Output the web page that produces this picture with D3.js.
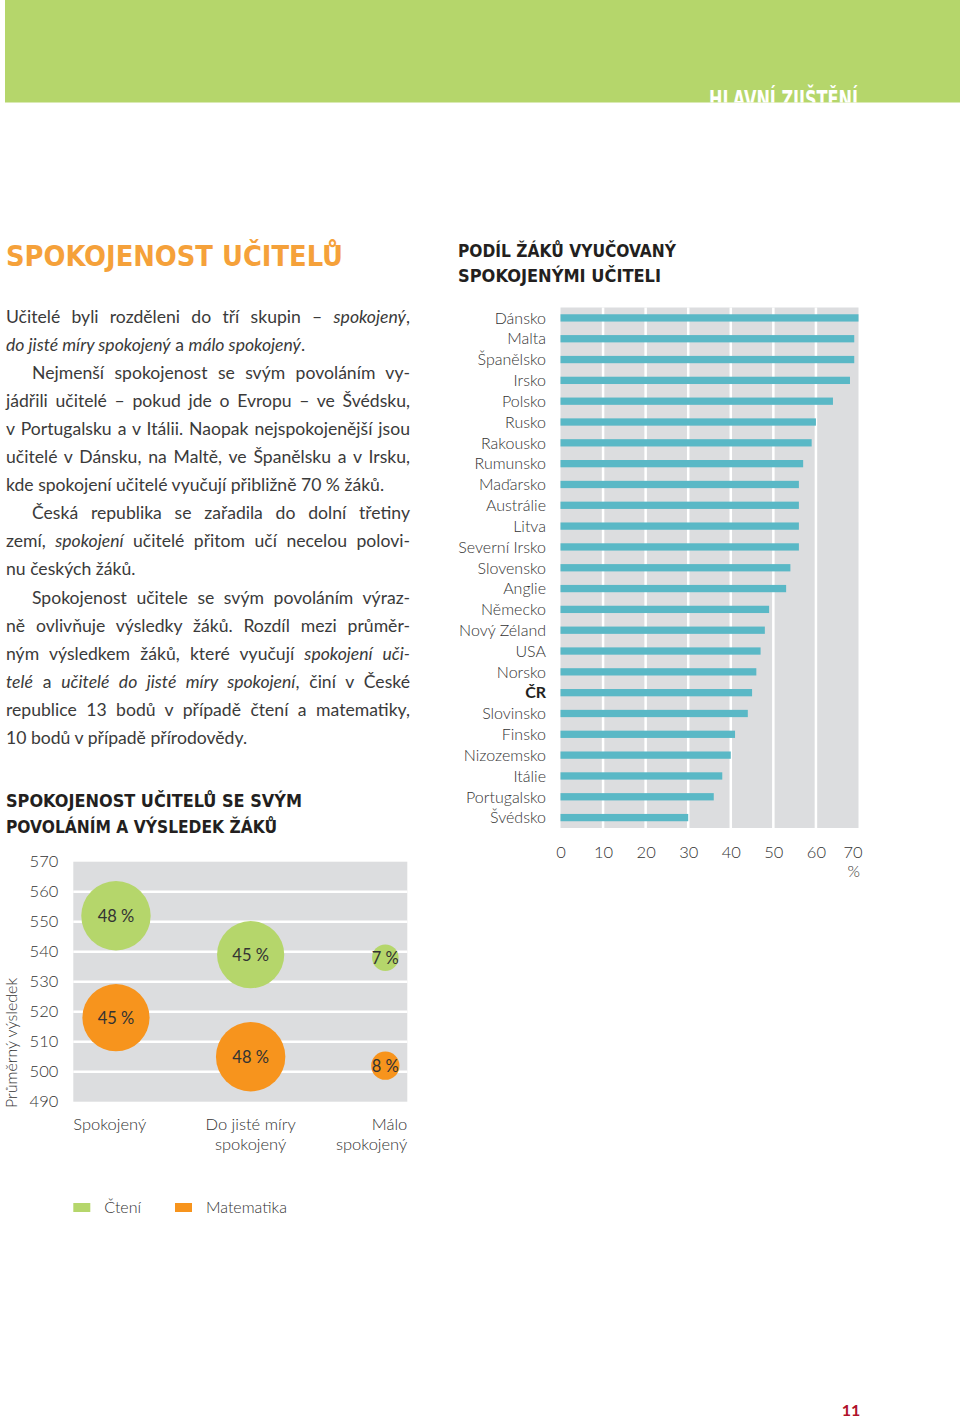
<!DOCTYPE html>
<html>
<head>
<meta charset="utf-8">
<script src="https://cdn.jsdelivr.net/npm/d3@7"></script>
<style>
  body { margin: 0; background: #fff; }
  svg { display: block; }
  text { font-family: Lato, 'Open Sans', sans-serif; }
  .cond { font-family: 'Liberation Sans Narrow', 'DejaVu Sans Condensed', sans-serif; font-weight: bold; }
</style>
</head>
<body>
<svg id="page" width="960" height="1423"></svg>
<script>
// Data
const countries = ['Dánsko', 'Malta', 'Španělsko', 'Irsko', 'Polsko', 'Rusko', 'Rakousko', 'Rumunsko',
  'Maďarsko', 'Austrálie', 'Litva', 'Severní Irsko', 'Slovensko', 'Anglie', 'Německo', 'Nový Zéland',
  'USA', 'Norsko', 'ČR', 'Slovinsko', 'Finsko', 'Nizozemsko', 'Itálie', 'Portugalsko', 'Švédsko'];
const shares = [70, 69, 69, 68, 64, 60, 59, 57, 56, 56, 56, 56, 54, 53, 49, 48, 47, 46, 45, 44, 41, 40, 38, 36, 30];
const shareTicks = [0, 10, 20, 30, 40, 50, 60, 70];

const groups = ['Spokojený', 'Do jisté míry spokojený', 'Málo spokojený'];
const groupLabels = [['Spokojený'], ['Do jisté míry', 'spokojený'], ['Málo', 'spokojený']];
const readingScores = [552, 539, 538];
const mathScores = [518, 505, 502];
const readingShares = [48, 45, 7];
const mathShares = [45, 48, 8];
const scoreTicks = [490, 500, 510, 520, 530, 540, 550, 560, 570];

// Text, * marks italics
const paragraphs = [
  ['Učitelé byli rozděleni do tří skupin – *spokojený*,',
    '*do jisté míry spokojený* a *málo spokojený*.'],
  ['Nejmenší spokojenost se svým povoláním vy-',
    'jádřili učitelé – pokud jde o Evropu – ve Švédsku,',
    'v Portugalsku a v Itálii. Naopak nejspokojenější jsou',
    'učitelé v Dánsku, na Maltě, ve Španělsku a v Irsku,',
    'kde spokojení učitelé vyučují přibližně 70 % žáků.'],
  ['Česká republika se zařadila do dolní třetiny',
    'zemí, *spokojení* učitelé přitom učí necelou polovi-',
    'nu českých žáků.'],
  ['Spokojenost učitele se svým povoláním výraz-',
    'ně ovlivňuje výsledky žáků. Rozdíl mezi průměr-',
    'ným výsledkem žáků, které vyučují *spokojení uči-*',
    '*telé* a *učitelé do jisté míry spokojení*, činí v České',
    'republice 13 bodů v případě čtení a matematiky,',
    '10 bodů v případě přírodovědy.'],
];

const green = '#b5d66b';
const orange = '#f7941d';
const teal = '#5ab8c6';
const plotGrey = '#dcdddf';
const textColor = '#333333';
const headColor = '#231f20';

const svg = d3.select('#page');
svg.append('rect').attr('width', 960).attr('height', 1423).attr('fill', '#fff');

// Header band
svg.append('defs').append('clipPath').attr('id', 'head-clip')
  .append('rect').attr('x', 5).attr('y', 0).attr('width', 955).attr('height', 102.5);
svg.append('rect').attr('x', 5).attr('y', 0).attr('width', 955).attr('height', 102.5).attr('fill', green);
svg.append('text').attr('class', 'cond')
  .attr('clip-path', 'url(#head-clip)')
  .attr('x', 709).attr('y', 108)
  .attr('font-size', 25).attr('fill', '#fff')
  .attr('textLength', 149).attr('lengthAdjust', 'spacingAndGlyphs')
  .text('HLAVNÍ ZJIŠTĚNÍ');

// Headings
const heading = (str, x, y, size, len, fill) => svg.append('text').attr('class', 'cond')
  .attr('x', x).attr('y', y).attr('font-size', size).attr('fill', fill)
  .attr('textLength', len).attr('lengthAdjust', 'spacingAndGlyphs')
  .text(str);

heading('SPOKOJENOST UČITELŮ', 6, 265.5, 28, 337, '#f5a13a');
heading('PODÍL ŽÁKŮ VYUČOVANÝ', 458, 256.5, 18.5, 218, headColor);
heading('SPOKOJENÝMI UČITELI', 458, 281.5, 18.5, 203, headColor);
heading('SPOKOJENOST UČITELŮ SE SVÝM', 6, 806.5, 18.5, 296, headColor);
heading('POVOLÁNÍM A VÝSLEDEK ŽÁKŮ', 6, 832.5, 18.5, 271, headColor);

// Body text, justified line by line
const body = svg.append('g').attr('font-size', 17.6).attr('fill', '#3a3a3a');
const textLeft = 6;
const textRight = 410;
let lineNo = 0;
paragraphs.forEach((lines, pi) => {
  lines.forEach((str, li) => {
    const x = (pi > 0 && li === 0) ? textLeft + 26 : textLeft;
    const t = body.append('text').attr('x', x).attr('y', 322.5 + lineNo * 28.1);
    str.split('*').forEach((s, i) => {
      if (!s) return;
      t.append('tspan').attr('font-style', i % 2 ? 'italic' : null).text(s);
    });
    if (li < lines.length - 1) {
      const natural = t.node().getComputedTextLength();
      const spaces = (str.match(/ /g) || []).length;
      if (spaces) t.style('word-spacing', `${(textRight - x - natural) / spaces}px`);
    }
    lineNo += 1;
  });
});

// Bar chart: share of pupils taught by satisfied teachers
const x = d3.scaleLinear().domain([0, 70]).range([560.5, 858.5]);
const y = d3.scaleBand().domain(countries).range([307.5, 828])
  .paddingInner(0.65).paddingOuter(0.325);

const bars = svg.append('g');
bars.append('rect')
  .attr('x', x(0)).attr('y', y.range()[0])
  .attr('width', x(70) - x(0)).attr('height', y.range()[1] - y.range()[0])
  .attr('fill', plotGrey);

bars.selectAll('.grid')
  .data(shareTicks.slice(1, -1))
  .enter().append('line')
  .attr('x1', (d) => x(d)).attr('x2', (d) => x(d))
  .attr('y1', y.range()[0]).attr('y2', y.range()[1])
  .attr('stroke', '#fff').attr('stroke-width', 2.5);

bars.selectAll('.bar')
  .data(countries)
  .enter().append('rect')
  .attr('x', x(0))
  .attr('y', (d) => y(d))
  .attr('width', (d, i) => x(shares[i]) - x(0))
  .attr('height', y.bandwidth())
  .attr('fill', teal);

bars.selectAll('.label')
  .data(countries)
  .enter().append('text')
  .attr('x', 546)
  .attr('y', (d) => y(d) + y.bandwidth() / 2)
  .attr('dy', '0.36em')
  .attr('text-anchor', 'end')
  .attr('font-size', 16)
  .attr('font-weight', (d) => (d === 'ČR' ? 'bold' : 300))
  .attr('fill', (d) => (d === 'ČR' ? headColor : textColor))
  .text((d) => d);

const xAxis = bars.append('g')
  .attr('transform', `translate(0,${y.range()[1]})`)
  .call(d3.axisBottom(x).tickValues(shareTicks).tickSize(0).tickPadding(18));
xAxis.select('.domain').remove();
xAxis.selectAll('text').attr('font-size', 16.5).attr('fill', textColor)
  .attr('font-weight', 300)
  .style('font-family', 'Lato, sans-serif');
xAxis.selectAll('.tick').filter((d) => d === 70).select('text').attr('dx', -6);

bars.append('text')
  .attr('x', 860).attr('y', 877)
  .attr('text-anchor', 'end')
  .attr('font-size', 16).attr('font-weight', 300).attr('fill', textColor)
  .text('%');

// Bubble chart: satisfaction and average score
const plotL = 73.3;
const plotR = 407.3;
const yS = d3.scaleLinear().domain([490, 570]).range([1101.7, 861.7]);
const xS = d3.scalePoint().domain(groups).range([plotL, plotR]).padding(0.24).align(0.66);
const r = d3.scaleSqrt().domain([0, 48]).range([0, 34.7]);

const bub = svg.append('g');
bub.append('rect')
  .attr('x', plotL).attr('y', yS(570))
  .attr('width', plotR - plotL).attr('height', yS(490) - yS(570))
  .attr('fill', plotGrey);

bub.selectAll('.grid')
  .data(scoreTicks.slice(1, -1))
  .enter().append('line')
  .attr('x1', plotL).attr('x2', plotR)
  .attr('y1', (d) => yS(d)).attr('y2', (d) => yS(d))
  .attr('stroke', '#fff').attr('stroke-width', 2.5);

const yAxis = bub.append('g')
  .attr('transform', `translate(${plotL},0)`)
  .call(d3.axisLeft(yS).tickValues(scoreTicks).tickSize(0).tickPadding(15));
yAxis.select('.domain').remove();
yAxis.selectAll('text').attr('font-size', 16.5).attr('fill', textColor)
  .attr('font-weight', 300)
  .style('font-family', 'Lato, sans-serif');

bub.append('text')
  .attr('transform', 'translate(17,1108) rotate(-90)')
  .attr('font-size', 16).attr('font-weight', 300).attr('fill', textColor)
  .text('Průměrný výsledek');

const series = [
  { scores: readingScores, pct: readingShares, color: green },
  { scores: mathScores, pct: mathShares, color: orange },
];

series.forEach((s) => {
  bub.selectAll(null)
    .data(groups)
    .enter().append('circle')
    .attr('cx', (d) => xS(d))
    .attr('cy', (d, i) => yS(s.scores[i]))
    .attr('r', (d, i) => r(s.pct[i]))
    .attr('fill', s.color);

  bub.selectAll(null)
    .data(groups)
    .enter().append('text')
    .attr('x', (d) => xS(d))
    .attr('y', (d, i) => yS(s.scores[i]))
    .attr('dy', '0.36em')
    .attr('text-anchor', 'middle')
    .attr('font-size', 16.5).attr('fill', '#333')
    .text((d, i) => `${s.pct[i]}\u00a0%`);
});

// Category labels under the plot
groupLabels.forEach((lines, i) => {
  let lx = xS(groups[i]);
  let anchor = 'middle';
  if (i === 0) { lx = plotL; anchor = 'start'; }
  if (i === groupLabels.length - 1) { lx = plotR; anchor = 'end'; }
  lines.forEach((line, j) => {
    bub.append('text')
      .attr('x', lx).attr('y', 1130 + j * 19.5)
      .attr('text-anchor', anchor)
      .attr('font-size', 16.5).attr('font-weight', 300).attr('fill', textColor)
      .text(line);
  });
});

// Legend
const legend = [{ name: 'Čtení', color: green, x: 73.3 }, { name: 'Matematika', color: orange, x: 175 }];
const lg = svg.append('g');
legend.forEach((d) => {
  lg.append('rect').attr('x', d.x).attr('y', 1203).attr('width', 17).attr('height', 9).attr('fill', d.color);
  lg.append('text').attr('x', d.x + 31).attr('y', 1212.5)
    .attr('font-size', 16).attr('font-weight', 300).attr('fill', textColor).text(d.name);
});

// Page number
svg.append('text')
  .attr('x', 851).attr('y', 1415.5)
  .attr('text-anchor', 'middle')
  .attr('font-size', 16).attr('font-weight', 'bold')
  .attr('fill', '#b0122a')
  .text('11');
</script>
</body>
</html>
